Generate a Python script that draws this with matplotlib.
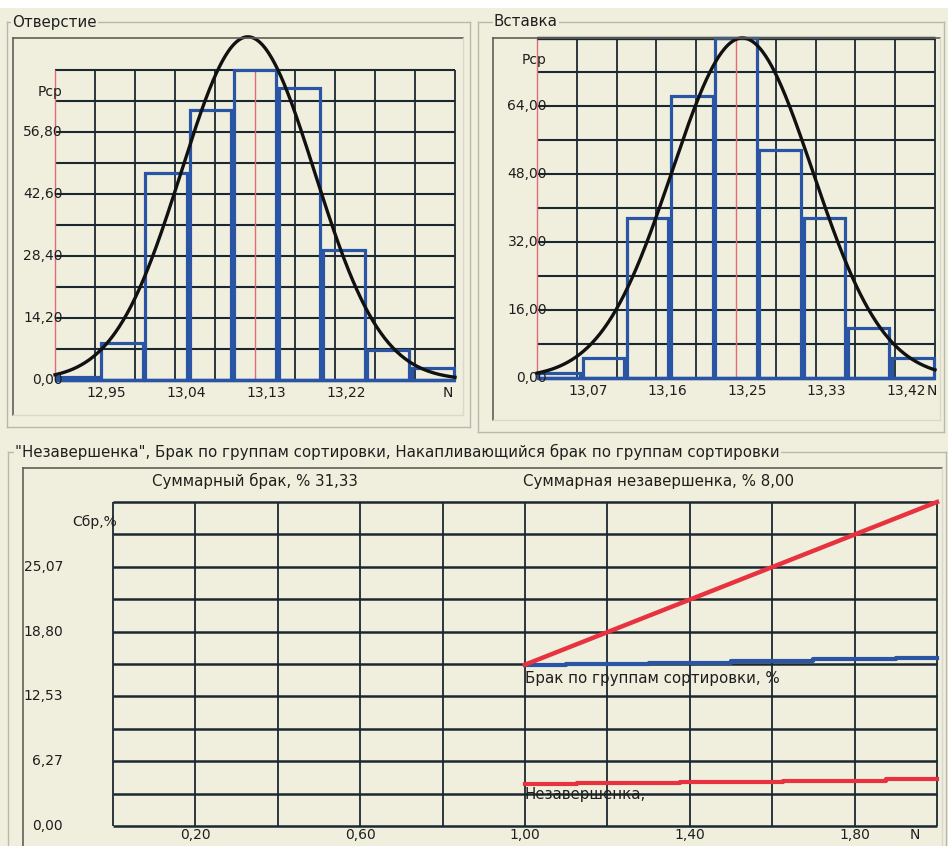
import numpy as np
import matplotlib
matplotlib.use("Agg")
import matplotlib.pyplot as plt
from matplotlib.lines import Line2D
from matplotlib.patches import Rectangle

plt.rcParams['font.family'] = ['DejaVu Sans']

# ---------------- data ----------------
hole_title = "Отверстие"
hole_x_start = 12.905
hole_grid_step = 0.045
hole_bin_width = 0.05
hole_freq = [0.7, 8.5, 47.4, 61.8, 71.0, 66.9, 29.8, 6.9, 2.7]
hole_mean_line = 13.13
hole_curve_mean = 13.122
hole_curve_sigma = 0.075
hole_curve_peak = 78.6
hole_ymax = 71.0
hole_yticks = [0.0, 14.2, 28.4, 42.6, 56.8]
hole_ytick_labels = ["0,00", "14,20", "28,40", "42,60", "56,80"]
hole_xticks = [12.95, 13.04, 13.13, 13.22]
hole_xtick_labels = ["12,95", "13,04", "13,13", "13,22"]

ins_title = "Вставка"
ins_x_start = 13.02625
ins_grid_step = 0.04375
ins_bin_width = 0.048611
ins_freq = [1.2, 4.7, 37.6, 66.3, 80.0, 53.7, 37.6, 11.8, 4.7]
ins_mean_line = 13.245
ins_curve_mean = 13.252
ins_curve_sigma = 0.0775
ins_curve_peak = 80.0
ins_ymax = 80.0
ins_yticks = [0.0, 16.0, 32.0, 48.0, 64.0]
ins_ytick_labels = ["0,00", "16,00", "32,00", "48,00", "64,00"]
ins_xticks = [13.07, 13.1575, 13.245, 13.3325, 13.42]
ins_xtick_labels = ["13,07", "13,16", "13,25", "13,33", "13,42"]

bot_title = '"Незавершенка", Брак по группам сортировки, Накапливающийся брак по группам сортировки'
bot_xmax = 2.0
bot_ymax = 31.33
cum_x = [1.0, 2.0]
cum_y = [15.6, 31.33]
sort_x = [1.0, 1.1, 1.3, 1.5, 1.7, 1.9, 2.0]
sort_y = [15.57, 15.67, 15.79, 15.96, 16.11, 16.27, 16.27]
unf_x = [1.0, 1.125, 1.375, 1.625, 1.875, 2.0]
unf_y = [4.06, 4.19, 4.26, 4.38, 4.55, 4.55]
bot_yticks = [0.0, 6.27, 12.53, 18.80, 25.07]
bot_ytick_labels = ["0,00", "6,27", "12,53", "18,80", "25,07"]
bot_xticks = [0.2, 0.6, 1.0, 1.4, 1.8]
bot_xtick_labels = ["0,20", "0,60", "1,00", "1,40", "1,80"]
total_reject_text = "Суммарный брак, % 31,33"
total_unfinished_text = "Суммарная незавершенка, % 8,00"
sort_label = "Брак по группам сортировки, %"
unf_label = "Незавершенка,"

# ---------------- style ----------------
W, H = 953, 846
BG = "#f0efdd"
GRID = "#1b2831"
BLUE = "#2a55a5"
RED = "#e8323f"
PINK = "#e46a78"
FS = 10      # tick labels
FT = 10.8    # other texts
TXT = "#1e1e1e"

fig = plt.figure(figsize=(W / 100, H / 100), dpi=100, facecolor=BG)


def px_axes(x0, y0, x1, y1):
    ax = fig.add_axes([x0 / W, 1 - y1 / H, (x1 - x0) / W, (y1 - y0) / H])
    ax.axis("off")
    return ax


def px_line(x0, y0, x1, y1, color, lw):
    fig.add_artist(Line2D([x0 / W, x1 / W], [1 - y0 / H, 1 - y1 / H],
                          transform=fig.transFigure, color=color, lw=lw))


def group_box(x0, y0, x1, y1, title, tx):
    px_line(x0, y0, x1, y0, "#b8b8ac", 1.0)
    px_line(x0, y0, x0, y1, "#b8b8ac", 1.0)
    px_line(x1, y0, x1, y1, "#b8b8ac", 1.0)
    px_line(x0, y1, x1, y1, "#b8b8ac", 1.0)
    fig.text(tx / W, 1 - y0 / H, title, fontsize=FT, ha="left", va="center",
             color=TXT, bbox=dict(facecolor=BG, edgecolor="none", pad=1.0))


def inner_frame(x0, y0, x1, y1):
    px_line(x0, y0, x1, y0, "#606058", 1.2)
    px_line(x0, y0, x0, y1, "#606058", 1.2)
    px_line(x1, y0, x1, y1, "#d8d8cc", 1.0)
    px_line(x0, y1, x1, y1, "#d8d8cc", 1.0)


def off_pt(px):
    return px * 0.72


def hist_panel(ax, x_start, step, bin_w, freq, ymax, mean_line, c_mean, c_sig, c_peak,
               yticks, ylabels, xticks, xlabels, ylab_dx, xlab_dx, n_frac, pcp_y, pcp_dx):
    x_end = x_start + 10 * step
    ax.set_xlim(x_start, x_end)
    ax.set_ylim(0, ymax)
    gx = np.linspace(x_start, x_end, 11)
    gy = np.linspace(0, ymax, 11)
    ax.hlines(gy[1:], x_start, x_end, colors=GRID, lw=1.5, zorder=1, clip_on=False)
    black_v = [g for i, g in enumerate(gx) if i not in (0, 5)]
    ax.vlines(black_v, 0, ymax, colors=GRID, lw=1.3, zorder=1, clip_on=False)
    ax.vlines([x_start, mean_line], 0, ymax, colors=PINK, lw=1.0, zorder=1.5, clip_on=False)
    lefts = x_start + bin_w * np.arange(len(freq))
    ax.bar(lefts + bin_w / 2, freq, width=bin_w * 0.94, fill=False, edgecolor=BLUE,
           lw=2.3, zorder=3, clip_on=False)
    ax.hlines([0], x_start, x_end, colors=BLUE, lw=2.5, zorder=3, clip_on=False)
    xs = np.linspace(x_start, x_end, 400)
    ys = c_peak * np.exp(-0.5 * ((xs - c_mean) / c_sig) ** 2)
    ax.plot(xs, ys, color="#111111", lw=2.4, zorder=4, clip_on=False)
    for v, lab in zip(yticks, ylabels):
        ax.annotate(lab, xy=(0, v), xycoords=("axes fraction", "data"),
                    xytext=(off_pt(ylab_dx), 0), textcoords="offset points",
                    ha="right", va="center", fontsize=FS, color=TXT, zorder=6)
    for v, lab in zip(xticks, xlabels):
        ax.annotate(lab, xy=(v, 0), xycoords=("data", "axes fraction"),
                    xytext=(off_pt(xlab_dx), off_pt(-13)), textcoords="offset points",
                    ha="center", va="center", fontsize=FS, color=TXT, zorder=6)
    ax.annotate("N", xy=(n_frac, 0), xycoords="axes fraction",
                xytext=(0, off_pt(-13)), textcoords="offset points",
                ha="center", va="center", fontsize=FS, color=TXT)
    ax.annotate("Рср", xy=(0, pcp_y), xycoords=("axes fraction", "data"),
                xytext=(off_pt(pcp_dx), 0), textcoords="offset points",
                ha="right", va="center", fontsize=FS, color=TXT, zorder=6)


# white margins of the screenshot
fig.add_artist(Rectangle((0, 1 - 8 / H), 1, 8 / H, transform=fig.transFigure,
                         facecolor="white", edgecolor="none"))
fig.add_artist(Rectangle((948 / W, 0), 5 / W, 1, transform=fig.transFigure,
                         facecolor="white", edgecolor="none"))

# ---- left panel ----
group_box(7, 22, 470, 427, hole_title, 12)
inner_frame(13, 38, 463, 415)
ax1 = px_axes(55, 70, 455, 380)
hist_panel(ax1, hole_x_start, hole_grid_step, hole_bin_width, hole_freq, hole_ymax,
           hole_mean_line, hole_curve_mean, hole_curve_sigma, hole_curve_peak,
           hole_yticks, hole_ytick_labels, hole_xticks, hole_xtick_labels,
           8, 11, 0.982, 66.0, 8)

# ---- right panel ----
group_box(478, 22, 944, 432, ins_title, 494)
inner_frame(493, 38, 940, 420)
ax2 = px_axes(537, 38, 935, 378)
hist_panel(ax2, ins_x_start, ins_grid_step, ins_bin_width, ins_freq, ins_ymax,
           ins_mean_line, ins_curve_mean, ins_curve_sigma, ins_curve_peak,
           ins_yticks, ins_ytick_labels, ins_xticks, ins_xtick_labels,
           10, 11, 0.992, 74.8, 10)
ax2.hlines([ins_ymax], ins_x_start, ins_x_start + 10 * ins_grid_step,
           colors=GRID, lw=2.4, zorder=2, clip_on=False)

# ---- bottom panel ----
group_box(8, 452, 946, 860, bot_title, 15)
inner_frame(23, 468, 942, 860)
ax3 = px_axes(113, 502, 937, 826)
ax3.set_xlim(0, bot_xmax)
ax3.set_ylim(0, bot_ymax)
gx = np.linspace(0, bot_xmax, 11)
gy = np.linspace(0, bot_ymax, 11)
ax3.hlines(gy, 0, bot_xmax, colors=GRID, lw=1.8, zorder=1, clip_on=False)
ax3.vlines(gx, 0, bot_ymax, colors=GRID, lw=1.3, zorder=1, clip_on=False)
ax3.step(unf_x, unf_y, where="post", color=RED, lw=3.0, zorder=3, clip_on=False)
ax3.step(sort_x, sort_y, where="post", color=BLUE, lw=3.0, zorder=3, clip_on=False)
ax3.plot(cum_x, cum_y, color=RED, lw=3.2, zorder=4, clip_on=False)
for v, lab in zip(bot_yticks, bot_ytick_labels):
    ax3.annotate(lab, xy=(0, v), xycoords=("axes fraction", "data"),
                 xytext=(off_pt(-50), 0), textcoords="offset points",
                 ha="right", va="center", fontsize=FS, color=TXT)
for v, lab in zip(bot_xticks, bot_xtick_labels):
    ax3.annotate(lab, xy=(v, 0), xycoords=("data", "axes fraction"),
                 xytext=(0, off_pt(-9)), textcoords="offset points",
                 ha="center", va="center", fontsize=FS, color=TXT)
ax3.annotate("N", xy=(1.947, 0), xycoords=("data", "axes fraction"),
             xytext=(0, off_pt(-9)), textcoords="offset points",
             ha="center", va="center", fontsize=FS, color=TXT)
ax3.annotate("Сбр,%", xy=(0, 29.4), xycoords=("axes fraction", "data"),
             xytext=(off_pt(4), 0), textcoords="offset points",
             ha="right", va="center", fontsize=FS, color=TXT)
ax3.annotate(total_reject_text, xy=(0.095, 1), xycoords=("data", "axes fraction"),
             xytext=(0, off_pt(21)), textcoords="offset points",
             ha="left", va="center", fontsize=FT, color=TXT)
ax3.annotate(total_unfinished_text, xy=(0.995, 1), xycoords=("data", "axes fraction"),
             xytext=(0, off_pt(21)), textcoords="offset points",
             ha="left", va="center", fontsize=FT, color=TXT)
ax3.text(sort_x[0], 14.3, sort_label, ha="left", va="center", fontsize=FT,
         color=TXT, zorder=5)
ax3.text(unf_x[0], 3.0, unf_label, ha="left", va="center", fontsize=FT,
         color=TXT, zorder=5)

fig.savefig("out.png", dpi=100, facecolor=BG)
